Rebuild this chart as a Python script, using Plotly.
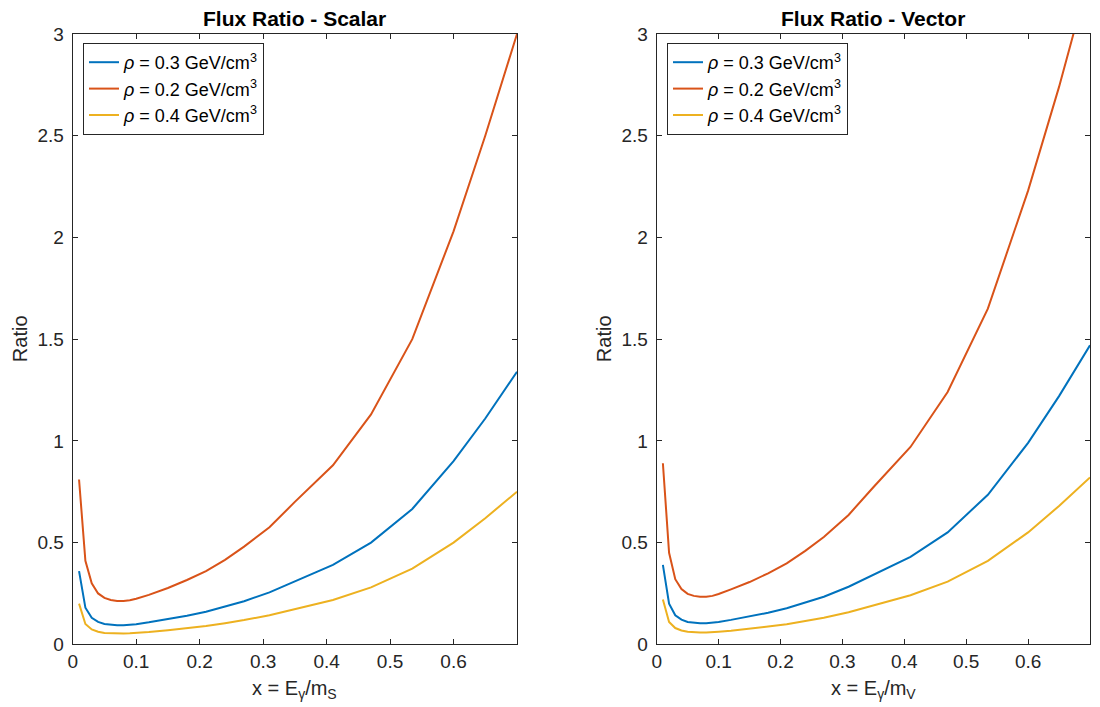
import plotly.graph_objects as go

# x = E_gamma / m
x_vals = [0.01, 0.02, 0.03, 0.04, 0.05, 0.06, 0.07, 0.08, 0.09, 0.10, 0.12, 0.15,
          0.18, 0.21, 0.24, 0.27, 0.31, 0.35, 0.41, 0.47, 0.535, 0.60, 0.65, 0.70]

# Scalar
scalar_rho03 = [0.36, 0.18, 0.13, 0.11, 0.100, 0.096, 0.094, 0.094, 0.096, 0.099, 0.108, 0.123,
                0.140, 0.160, 0.185, 0.212, 0.255, 0.310, 0.390, 0.500, 0.665, 0.900, 1.110, 1.340]
scalar_rho02 = [0.81, 0.41, 0.30, 0.25, 0.228, 0.218, 0.213, 0.213, 0.217, 0.224, 0.243, 0.277,
                0.316, 0.360, 0.415, 0.480, 0.575, 0.700, 0.880, 1.130, 1.500, 2.030, 2.500, 3.000]
scalar_rho04 = [0.20, 0.10, 0.073, 0.062, 0.056, 0.054, 0.053, 0.053, 0.054, 0.055, 0.060, 0.069,
                0.078, 0.090, 0.104, 0.119, 0.143, 0.174, 0.218, 0.280, 0.372, 0.500, 0.620, 0.750]

# Vector
vector_rho03 = [0.39, 0.20, 0.143, 0.121, 0.110, 0.106, 0.104, 0.104, 0.106, 0.110, 0.120, 0.136,
                0.155, 0.177, 0.204, 0.234, 0.283, 0.343, 0.430, 0.550, 0.735, 0.990, 1.220, 1.470]
vector_rho02 = [0.89, 0.45, 0.32, 0.272, 0.248, 0.238, 0.234, 0.234, 0.238, 0.247, 0.270, 0.306,
                0.349, 0.398, 0.459, 0.527, 0.636, 0.772, 0.970, 1.240, 1.650, 2.230, 2.740, 3.300]
vector_rho04 = [0.22, 0.11, 0.080, 0.068, 0.062, 0.059, 0.058, 0.058, 0.059, 0.062, 0.067, 0.076,
                0.087, 0.099, 0.114, 0.131, 0.158, 0.192, 0.241, 0.308, 0.410, 0.550, 0.680, 0.820]

series_names = ["<i>ρ</i> = 0.3 GeV/cm<sup>3</sup>",
                "<i>ρ</i> = 0.2 GeV/cm<sup>3</sup>",
                "<i>ρ</i> = 0.4 GeV/cm<sup>3</sup>"]
colors = ["#0072BD", "#D95319", "#EDB120"]

x_ticks = [0, 0.1, 0.2, 0.3, 0.4, 0.5, 0.6]
x_ticktext = ["0", "0.1", "0.2", "0.3", "0.4", "0.5", "0.6"]
y_ticks = [0, 0.5, 1, 1.5, 2, 2.5, 3]
y_ticktext = ["0", "0.5", "1", "1.5", "2", "2.5", "3"]

FONT = "Liberation Sans, Arial, Helvetica, sans-serif"
AX = "#262626"
OFF = 8  # page body margin
W, H = 1100 - OFF, 707 - OFF

fig = go.Figure()

panels = [
    ("x", "y", "legend", [scalar_rho03, scalar_rho02, scalar_rho04]),
    ("x2", "y2", "legend2", [vector_rho03, vector_rho02, vector_rho04]),
]
for xa, ya, lg, ys in panels:
    for name, col, yv in zip(series_names, colors, ys):
        fig.add_trace(go.Scatter(x=x_vals, y=yv, mode="lines", name=name,
                                 line=dict(color=col, width=2),
                                 xaxis=xa, yaxis=ya, legend=lg))

# pixel geometry in screenshot coordinates
L1, R1 = 72.7, 517.0
L2, R2 = 656.7, 1090.0
TOP, BOT = 34.0, 644.3

def px(v):
    return (v - OFF) / W

def py(v):
    return 1 - (v - OFF) / H

axis_common = dict(showline=True, linecolor=AX, linewidth=1, mirror="ticks",
                   ticks="inside", ticklen=5, tickcolor=AX, tickwidth=1,
                   showgrid=False, zeroline=False, automargin=False,
                   tickfont=dict(family=FONT, size=19, color=AX))

fig.update_layout(
    width=W, height=H, template="none",
    margin=dict(l=0, r=0, t=0, b=0),
    paper_bgcolor="white", plot_bgcolor="white",
    showlegend=True,
    xaxis=dict(domain=[px(L1), px(R1)], range=[0, 0.7], tickvals=x_ticks, ticktext=x_ticktext,
               anchor="y", **axis_common),
    yaxis=dict(domain=[py(BOT), py(TOP)], range=[0, 3], tickvals=y_ticks, ticktext=y_ticktext,
               anchor="x", ticklabelstandoff=4, **axis_common),
    xaxis2=dict(domain=[px(L2), px(R2)], range=[0, 0.7], tickvals=x_ticks, ticktext=x_ticktext,
                anchor="y2", **axis_common),
    yaxis2=dict(domain=[py(BOT), py(TOP)], range=[0, 3], tickvals=y_ticks, ticktext=y_ticktext,
                anchor="x2", ticklabelstandoff=4, **axis_common),
    legend=dict(x=px(83), y=py(43), xanchor="left", yanchor="top",
                bgcolor="white", bordercolor=AX, borderwidth=1,
                font=dict(family=FONT, size=18, color="black"), itemwidth=30),
    legend2=dict(x=px(667), y=py(43), xanchor="left", yanchor="top",
                 bgcolor="white", bordercolor=AX, borderwidth=1,
                 font=dict(family=FONT, size=18, color="black"), itemwidth=30),
)

titles = [("<b>Flux Ratio - Scalar</b>", (L1 + R1) / 2),
          ("<b>Flux Ratio - Vector</b>", (L2 + R2) / 2)]
for t, xc in titles:
    fig.add_annotation(xref="paper", yref="paper", x=px(xc), y=py(19), text=t,
                       showarrow=False, xanchor="center", yanchor="middle",
                       font=dict(family=FONT, size=21, color="black"))

xlabels = [("x = E<sub>γ</sub>/m<sub>S</sub>", (L1 + R1) / 2),
           ("x = E<sub>γ</sub>/m<sub>V</sub>", (L2 + R2) / 2)]
for t, xc in xlabels:
    fig.add_annotation(xref="paper", yref="paper", x=px(xc), y=py(689), text=t,
                       showarrow=False, xanchor="center", yanchor="middle",
                       font=dict(family=FONT, size=20, color=AX))

for xc in [20, 604]:
    fig.add_annotation(xref="paper", yref="paper", x=px(xc), y=py((TOP + BOT) / 2), text="Ratio",
                       showarrow=False, textangle=-90, xanchor="center", yanchor="middle",
                       font=dict(family=FONT, size=20, color=AX))

fig.write_html("out.html")
